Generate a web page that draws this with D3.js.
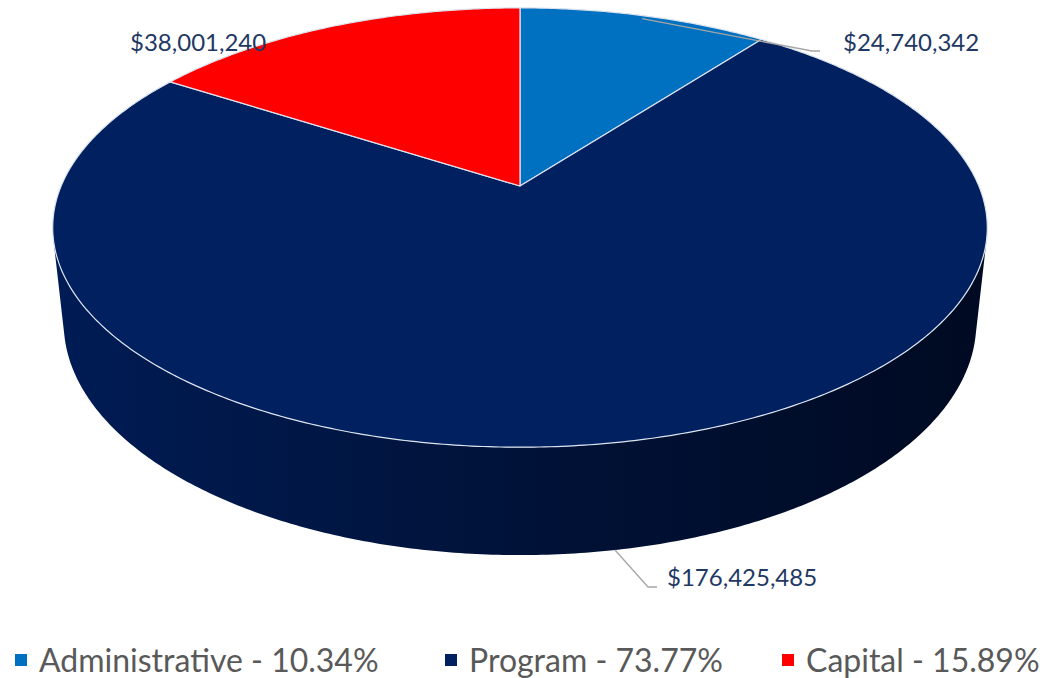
<!DOCTYPE html>
<html lang="en">
<head>
    <meta charset="UTF-8">
    <title>Expenses</title>
    <script src="https://cdn.jsdelivr.net/npm/d3@7/dist/d3.min.js"></script>
    <style>
        body { margin: 0; background: #fff; }
        text { font-family: Lato, "Open Sans", sans-serif; }
        .value-label { fill: #1f3864; font-size: 24px; }
        .legend text { fill: #595959; font-size: 32px; }
        .leader { fill: none; stroke: #a6a6a6; stroke-width: 1.3; }
    </style>
</head>
<body>
    <svg width=1046 height=678></svg>
    <script>
        var categories = ['Administrative', 'Program', 'Capital'],
            values = [24740342, 176425485, 38001240],
            colors = ['#0070c0', '#002060', '#ff0000'],
            valueLabels = ['$24,740,342', '$176,425,485', '$38,001,240'],
            legendLabels = ['Administrative - 10.34%', 'Program - 73.77%', 'Capital - 15.89%'];

        var svg = d3.select('svg');

        // perspective camera for the tilted pie (unit radius)
        var cam = { x0: 520, y0: 186, f: 2152, dist: 4.69, tilt: 0.4798, depth: 0.236 },
            sinT = Math.sin(cam.tilt),
            cosT = Math.cos(cam.tilt);

        function proj(theta, r, z) {
            var X = r * Math.sin(theta),
                Y = r * Math.cos(theta),
                d = Y * cosT - z * sinT + cam.dist,
                up = Y * sinT + z * cosT;
            return [cam.x0 + cam.f * X / d, cam.y0 - cam.f * up / d];
        }

        var pie = d3.pie().sort(null).value(function(d) { return d; }),
            arcs = pie(values);

        // wall faces the camera where cos(theta) < limit
        var limit = -1 / (cam.dist * cosT),
            tan1 = Math.acos(limit),
            tan2 = 2 * Math.PI - tan1;

        function samples(a0, a1) {
            var pts = [], n = Math.max(2, Math.ceil((a1 - a0) / 0.01));
            for (var i = 0; i <= n; i++) pts.push(a0 + (a1 - a0) * i / n);
            return pts;
        }

        var defs = svg.append('defs');
        var grad = defs.append('linearGradient')
            .attr('id', 'wallGrad')
            .attr('gradientUnits', 'userSpaceOnUse')
            .attr('x1', 50).attr('x2', 990).attr('y1', 0).attr('y2', 0);
        grad.append('stop').attr('offset', 0).attr('stop-color', '#001c55');
        grad.append('stop').attr('offset', 0.5).attr('stop-color', '#001238');
        grad.append('stop').attr('offset', 1).attr('stop-color', '#000a22');

        var line = d3.line();

        // walls
        var wallG = svg.append('g');
        arcs.forEach(function(a, i) {
            var a0 = Math.max(a.startAngle, tan1),
                a1 = Math.min(a.endAngle, tan2);
            if (a1 <= a0) return;
            var ang = samples(a0, a1),
                top = ang.map(function(t) { return proj(t, 1, 0); }),
                bot = ang.slice().reverse().map(function(t) { return proj(t, 1, -cam.depth); });
            wallG.append('path')
                .attr('d', line(top.concat(bot)) + 'Z')
                .attr('fill', i === 1 ? 'url(#wallGrad)' : d3.color(colors[i]).darker(1.2))
                .attr('stroke', 'none');
        });

        // top faces
        var topG = svg.append('g');
        arcs.forEach(function(a, i) {
            var pts = [proj(0, 0, 0)].concat(samples(a.startAngle, a.endAngle).map(function(t) {
                return proj(t, 1, 0);
            }));
            topG.append('path')
                .attr('d', line(pts) + 'Z')
                .attr('fill', colors[i])
                .attr('stroke', '#dce3ee')
                .attr('stroke-width', 1.2)
                .attr('stroke-linejoin', 'round');
        });

        // value labels with leader lines
        var labelG = svg.append('g');
        var admStart = proj((arcs[0].startAngle + arcs[0].endAngle) / 2, 0.98, 0),
            progStart = proj((arcs[1].startAngle + arcs[1].endAngle) / 2, 1, -cam.depth);

        labelG.append('path').attr('class', 'leader')
            .attr('d', line([admStart, [812, 51], [820, 51]]));
        labelG.append('path').attr('class', 'leader')
            .attr('d', line([progStart, [648, 587], [657, 587]]));

        labelG.append('text').attr('class', 'value-label')
            .attr('x', 843).attr('y', 43).attr('dy', '0.35em').text(valueLabels[0]);
        labelG.append('text').attr('class', 'value-label')
            .attr('x', 667).attr('y', 578).attr('dy', '0.35em').text(valueLabels[1]);
        labelG.append('text').attr('class', 'value-label')
            .attr('x', 130).attr('y', 43).attr('dy', '0.35em').text(valueLabels[2]);

        // legend
        var legendX = [15, 445, 782];
        var legend = svg.append('g').attr('class', 'legend')
            .selectAll('g')
            .data(categories)
            .enter().append('g')
            .attr('transform', function(d, i) { return 'translate(' + [legendX[i], 660] + ')'; });

        legend.append('rect')
            .attr('x', 0).attr('y', -6)
            .attr('width', 12).attr('height', 12)
            .attr('fill', function(d, i) { return colors[i]; });

        legend.append('text')
            .attr('x', 24).attr('y', 0).attr('dy', '0.36em')
            .text(function(d, i) { return legendLabels[i]; });
    </script>
</body>
</html>
